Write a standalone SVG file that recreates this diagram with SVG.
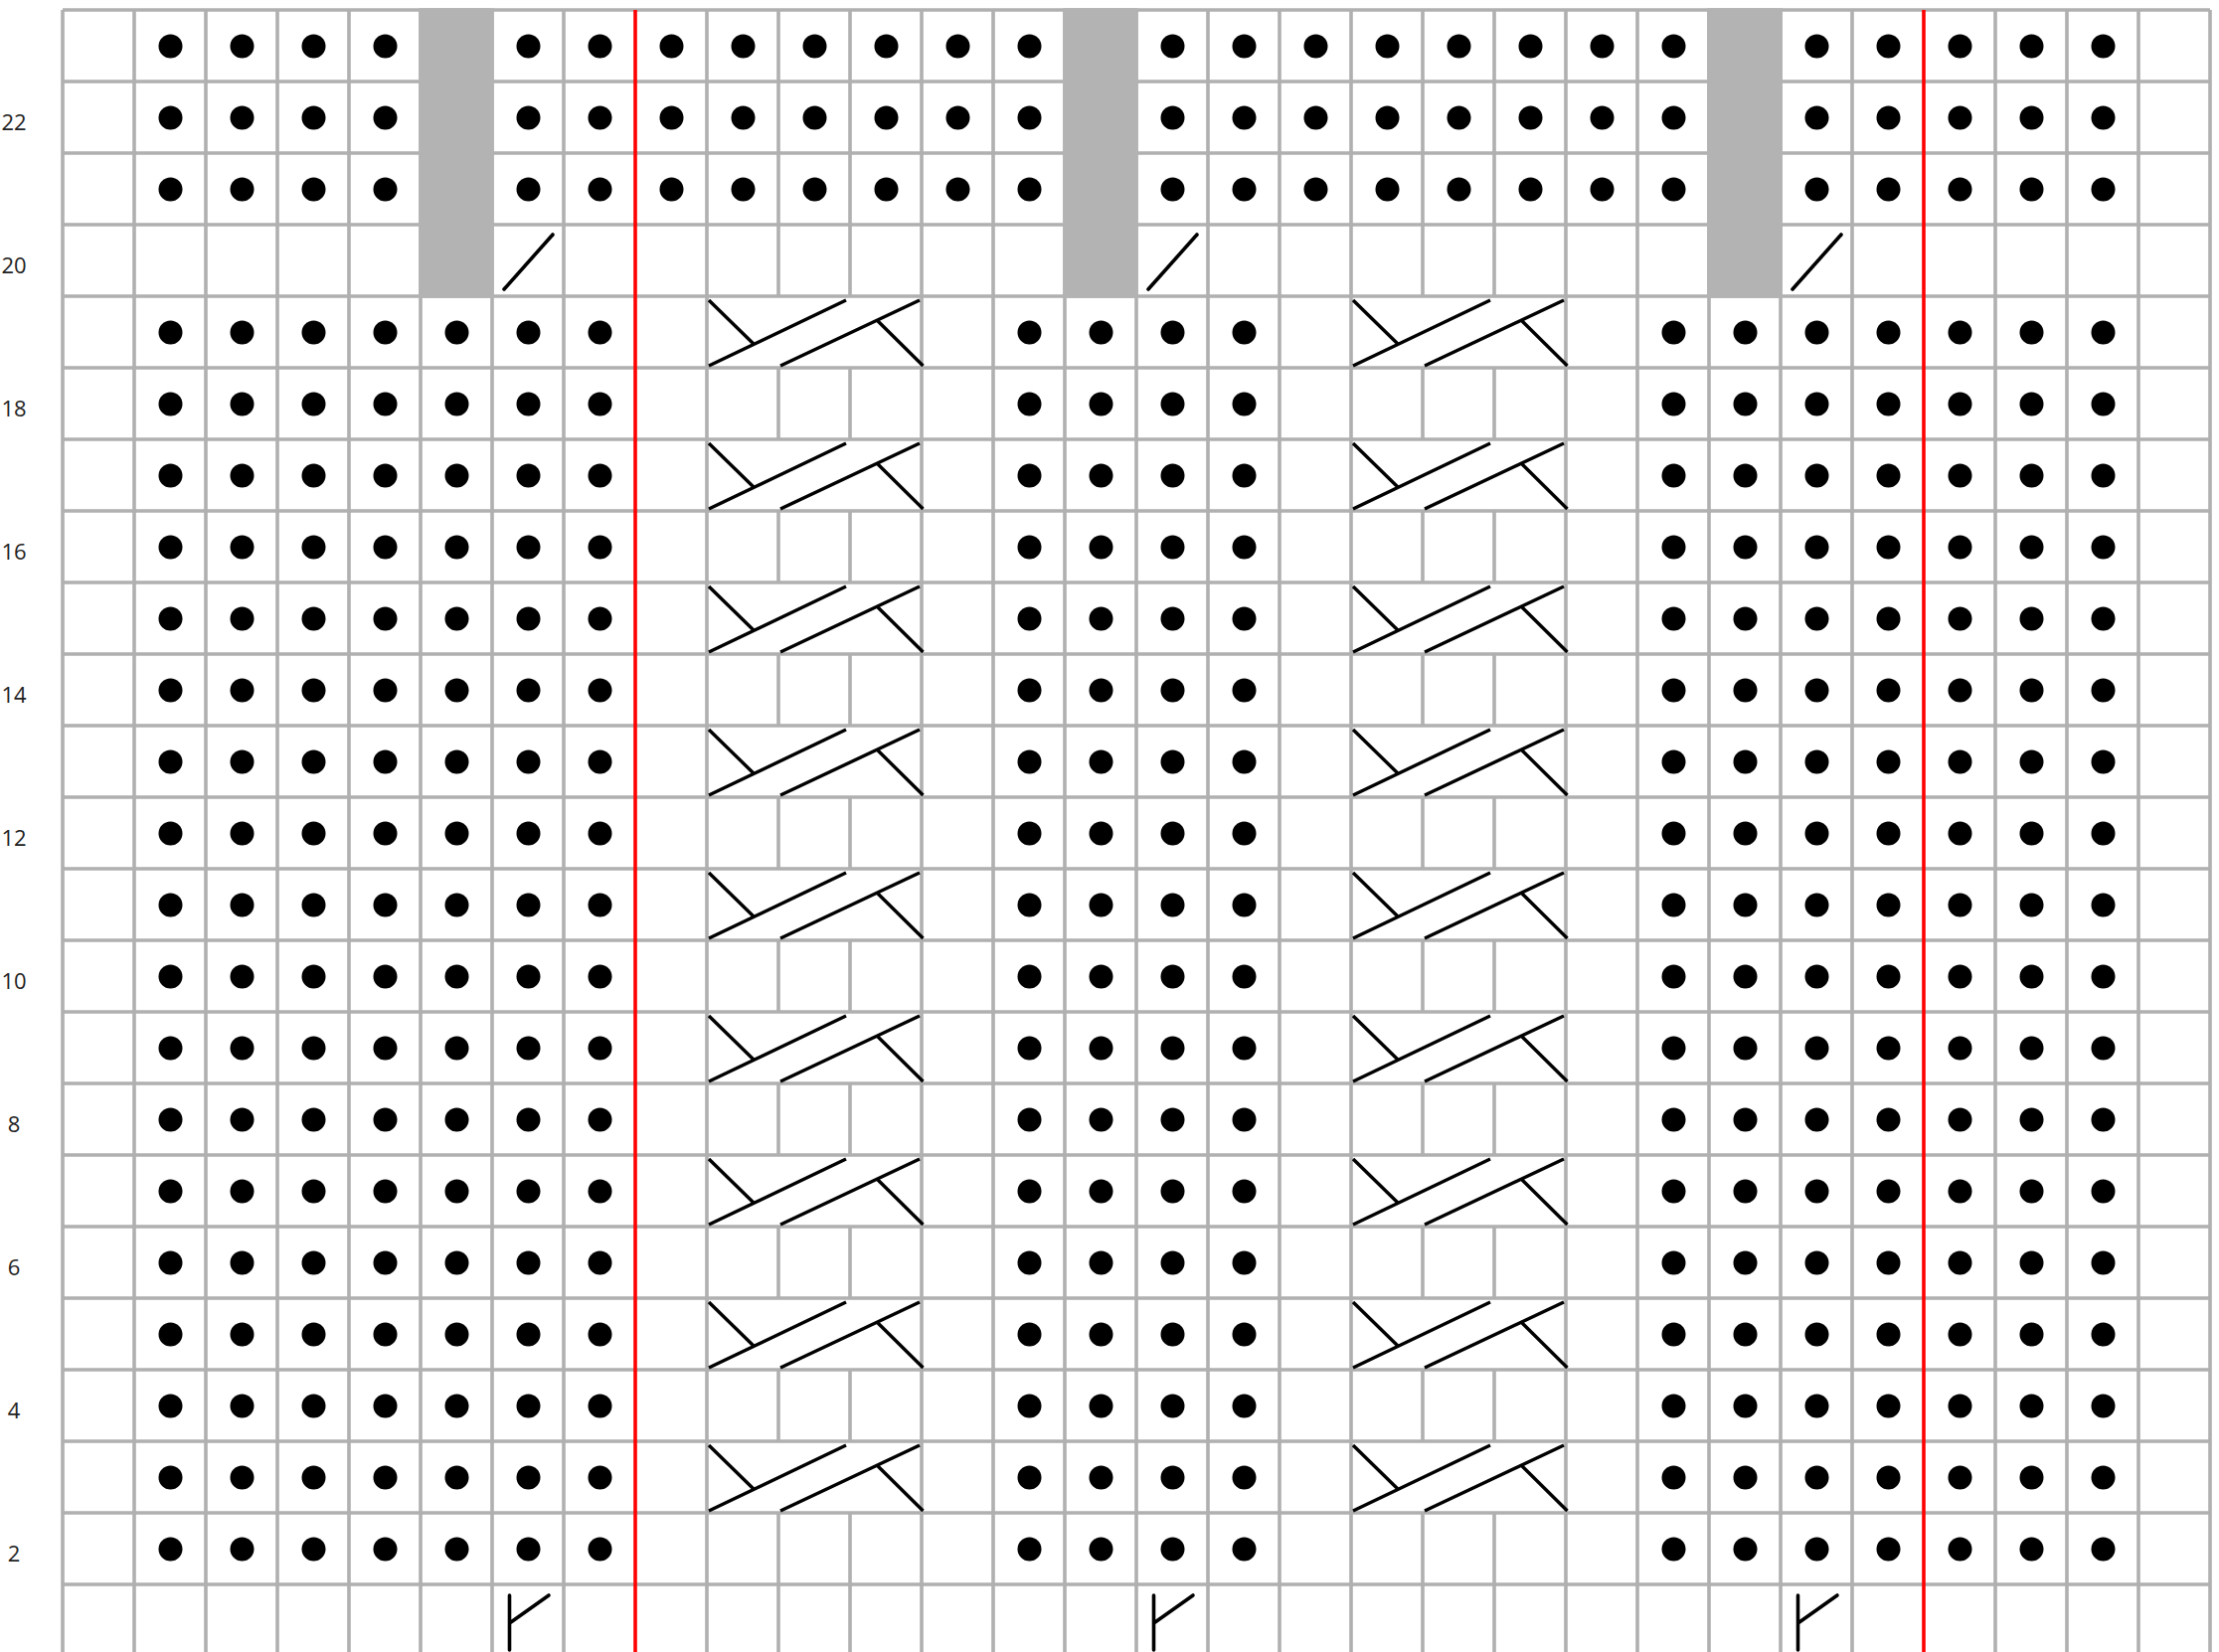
<svg xmlns="http://www.w3.org/2000/svg" width="2232" height="1662" viewBox="0 0 2232 1662">
<style>
.grid{fill:none;stroke:#b0b0b0;stroke-width:3.6}
.shade{fill:#b3b3b3}
.red{stroke:#ff0000;stroke-width:3.6}
.sym{fill:none;stroke:#000;stroke-width:3.6;stroke-linecap:round}
.cab{fill:none;stroke:#000;stroke-width:3.4}
.lbl{font-family:"Open Sans","Noto Sans",sans-serif;font-size:22px;fill:#222;text-anchor:middle}
</style>
<defs>
<pattern id="dots" patternUnits="userSpaceOnUse" x="63" y="10" width="72" height="72">
<circle cx="36.5" cy="36.5" r="12" fill="#000"/>
</pattern>
<g id="cable" class="cab">
<path d="M2 4L46.5 47.5M2 70L140 4M74 70L214 4M171 24L217.5 70"/>
</g>
<line id="slash" class="sym" x1="12" y1="65" x2="61" y2="10"/>
<path id="inc" class="sym" d="M17.5 11V66M17.5 39L57 11"/>
</defs>
<rect width="2232" height="1662" fill="#fff"/>
<g id="grid" class="grid">
<path d="M63 10H2223M63 82H2223M63 154H2223M63 226H2223M63 298H2223M63 370H2223M63 442H2223M63 514H2223M63 586H2223M63 658H2223M63 730H2223M63 802H2223M63 874H2223M63 946H2223M63 1018H2223M63 1090H2223M63 1162H2223M63 1234H2223M63 1306H2223M63 1378H2223M63 1450H2223M63 1522H2223M63 1594H2223"/>
<path d="M63 10V1662M135 10V1662M207 10V1662M279 10V1662M351 10V1662M423 10V1662M495 10V1662M567 10V1662M711 10V1662M927 10V1662M999 10V1662M1071 10V1662M1143 10V1662M1215 10V1662M1287 10V1662M1359 10V1662M1575 10V1662M1647 10V1662M1719 10V1662M1791 10V1662M1863 10V1662M2007 10V1662M2079 10V1662M2151 10V1662M2223 10V1662"/>
<path d="M783 10V298M783 370V442M783 514V586M783 658V730M783 802V874M783 946V1018M783 1090V1162M783 1234V1306M783 1378V1450M783 1522V1662"/>
<path d="M855 10V298M855 370V442M855 514V586M855 658V730M855 802V874M855 946V1018M855 1090V1162M855 1234V1306M855 1378V1450M855 1522V1662"/>
<path d="M1431 10V298M1431 370V442M1431 514V586M1431 658V730M1431 802V874M1431 946V1018M1431 1090V1162M1431 1234V1306M1431 1378V1450M1431 1522V1662"/>
<path d="M1503 10V298M1503 370V442M1503 514V586M1503 658V730M1503 802V874M1503 946V1018M1503 1090V1162M1503 1234V1306M1503 1378V1450M1503 1522V1662"/>
</g>
<g id="shaded">
<rect class="shade" x="421.2" y="8.2" width="75.6" height="291.6"/>
<rect class="shade" x="1069.2" y="8.2" width="75.6" height="291.6"/>
<rect class="shade" x="1717.2" y="8.2" width="75.6" height="291.6"/>
</g>
<g id="purl-dots" fill="url(#dots)">
<rect x="135" y="10" width="288" height="216"/>
<rect x="495" y="10" width="576" height="216"/>
<rect x="1143" y="10" width="576" height="216"/>
<rect x="1791" y="10" width="360" height="216"/>
<rect x="135" y="298" width="504" height="1296"/>
<rect x="999" y="298" width="288" height="1296"/>
<rect x="1647" y="298" width="504" height="1296"/>
</g>
<g id="cables">
<use href="#cable" x="711" y="298"/><use href="#cable" x="1359" y="298"/>
<use href="#cable" x="711" y="442"/><use href="#cable" x="1359" y="442"/>
<use href="#cable" x="711" y="586"/><use href="#cable" x="1359" y="586"/>
<use href="#cable" x="711" y="730"/><use href="#cable" x="1359" y="730"/>
<use href="#cable" x="711" y="874"/><use href="#cable" x="1359" y="874"/>
<use href="#cable" x="711" y="1018"/><use href="#cable" x="1359" y="1018"/>
<use href="#cable" x="711" y="1162"/><use href="#cable" x="1359" y="1162"/>
<use href="#cable" x="711" y="1306"/><use href="#cable" x="1359" y="1306"/>
<use href="#cable" x="711" y="1450"/><use href="#cable" x="1359" y="1450"/>
</g>
<g id="decreases">
<use href="#slash" x="495" y="226"/>
<use href="#slash" x="1143" y="226"/>
<use href="#slash" x="1791" y="226"/>
</g>
<g id="increases">
<use href="#inc" x="495" y="1594"/>
<use href="#inc" x="1143" y="1594"/>
<use href="#inc" x="1791" y="1594"/>
</g>
<g id="repeat-lines" class="red">
<line x1="639" y1="10" x2="639" y2="1662"/>
<line x1="1935" y1="10" x2="1935" y2="1662"/>
</g>
<g id="row-numbers" class="lbl">
<text x="14" y="131">22</text>
<text x="14" y="275">20</text>
<text x="14" y="419">18</text>
<text x="14" y="563">16</text>
<text x="14" y="707">14</text>
<text x="14" y="851">12</text>
<text x="14" y="995">10</text>
<text x="14" y="1139">8</text>
<text x="14" y="1283">6</text>
<text x="14" y="1427">4</text>
<text x="14" y="1571">2</text>
</g>
</svg>
